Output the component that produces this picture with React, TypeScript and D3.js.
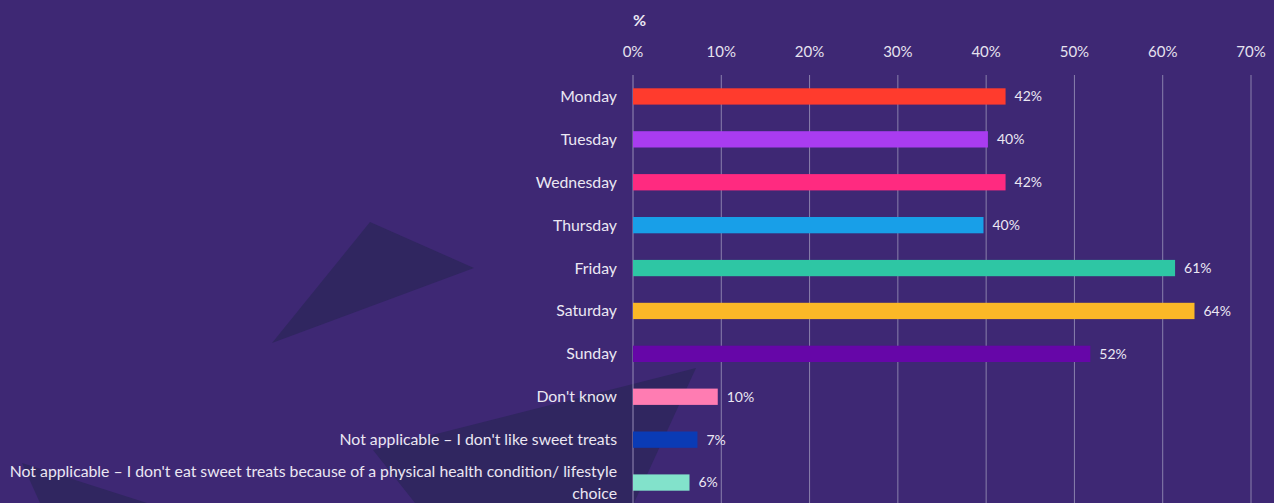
import * as d3 from "d3";

const categories = [
  "Monday",
  "Tuesday",
  "Wednesday",
  "Thursday",
  "Friday",
  "Saturday",
  "Sunday",
  "Don't know",
  "Not applicable – I don't like sweet treats",
  "Not applicable – I don't eat sweet treats because of a physical health condition/ lifestyle choice",
];
const values = [42.2, 40.2, 42.2, 39.7, 61.4, 63.6, 51.8, 9.6, 7.3, 6.4];
const valueLabels = ["42%", "40%", "42%", "40%", "61%", "64%", "52%", "10%", "7%", "6%"];
const colors = [
  "#ff3b2d",
  "#a93cf0",
  "#ff2a80",
  "#189fe8",
  "#2ec6a4",
  "#fbb827",
  "#6606a8",
  "#ff7cb2",
  "#0a3bb5",
  "#82e2cb",
];
const ticks = [0, 10, 20, 30, 40, 50, 60, 70];

const W = 1274;
const H = 503;
const FONT = "Lato, 'Open Sans', sans-serif";

export default function App() {
  const x = d3.scaleLinear().domain([0, 70]).range([633, 1251]);
  const y = d3
    .scaleBand<number>()
    .domain(d3.range(categories.length))
    .range([75, 504])
    .paddingInner(0.62)
    .paddingOuter(0.31);
  const bh = y.bandwidth();

  return (
    <svg
      width={W}
      height={H}
      style={{ position: "absolute", left: 0, top: 0, display: "block" }}
    >
      <rect width={W} height={H} fill="#3e2874" />
      {/* decorative shapes */}
      <polygon points="370,222 474,268 272,343" fill="#302660" />
      <polygon points="696,368 373,450 415,503 634,503" fill="#302660" />
      <polygon points="22,463 147,503 40,503" fill="#302660" />

      <text x={633} y={26} fill="#ece8f4" fontFamily={FONT} fontSize={16} fontWeight={700}>
        %
      </text>

      {ticks.map((t) => (
        <g key={t}>
          <line
            x1={x(t)}
            x2={x(t)}
            y1={75}
            y2={H}
            stroke={t === 0 ? "#958bb5" : "#8a80ac"}
            strokeWidth={1}
          />
          <text
            x={x(t)}
            y={52}
            dy="0.35em"
            textAnchor="middle"
            fill="#e6e2ef"
            fontFamily={FONT}
            fontSize={15}
          >
            {t}%
          </text>
        </g>
      ))}

      {values.map((v, i) => {
        const yc = (y(i) as number) + bh / 2;
        const lines =
          i === categories.length - 1
            ? [
                "Not applicable – I don't eat sweet treats because of a physical health condition/ lifestyle",
                "choice",
              ]
            : [categories[i]];
        return (
          <g key={i}>
            <rect x={x(0)} y={y(i)} width={x(v) - x(0)} height={bh} fill={colors[i]} />
            <text
              x={x(v) + 9}
              y={yc}
              dy="0.35em"
              fill="#ebe7f3"
              fontFamily={FONT}
              fontSize={14}
            >
              {valueLabels[i]}
            </text>
            <text
              x={617}
              y={lines.length > 1 ? yc - 11 : yc}
              textAnchor="end"
              fill="#ebe7f3"
              fontFamily={FONT}
              fontSize={15.8}
            >
              {lines.map((l, k) => (
                <tspan key={k} x={617} dy={k === 0 ? "0.35em" : 22}>
                  {l}
                </tspan>
              ))}
            </text>
          </g>
        );
      })}
    </svg>
  );
}
